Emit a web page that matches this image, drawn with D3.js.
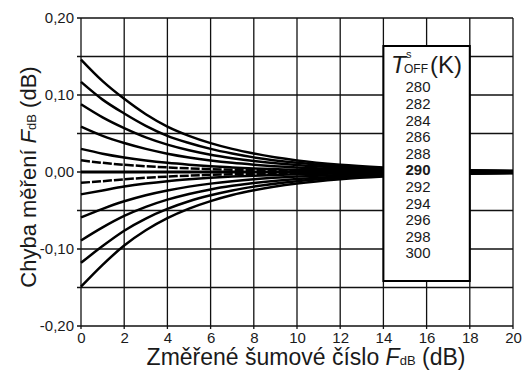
<!DOCTYPE html>
<html>
<head>
<meta charset="utf-8">
<script src="https://cdn.jsdelivr.net/npm/d3@7"></script>
<style>
  body { margin: 0; background: #fff; }
  text { font-family: "Liberation Sans", Arial, sans-serif; fill: #1a1a1a; }
</style>
</head>
<body>
<svg id="chart" width="525" height="372"></svg>
<script>
var xs = [0, 1, 2, 3, 4, 5, 6, 7, 8, 10, 12, 14, 16, 18, 20];

// error values, one curve per cold temperature
var c280 = [0.146, 0.118, 0.095, 0.075, 0.059, 0.047, 0.0375, 0.030, 0.024, 0.015, 0.0094, 0.006, 0.0038, 0.0024, 0.0015];
var c282 = [0.117, 0.094, 0.076, 0.060, 0.047, 0.0377, 0.030, 0.024, 0.019, 0.012, 0.0076, 0.0048, 0.003, 0.0019, 0.0012];
var c284 = [0.088, 0.071, 0.057, 0.045, 0.0356, 0.0283, 0.0225, 0.018, 0.0142, 0.009, 0.0057, 0.0036, 0.0023, 0.0014, 0.0009];
var c286 = [0.059, 0.047, 0.0376, 0.030, 0.0238, 0.0189, 0.015, 0.0119, 0.0095, 0.006, 0.0038, 0.0024, 0.0015, 0.0009, 0.0006];
var c288 = [0.030, 0.0238, 0.0189, 0.015, 0.0119, 0.0095, 0.0075, 0.006, 0.0047, 0.003, 0.0019, 0.0012, 0.0008, 0.0005, 0.0003];
var c289 = [0.0152, 0.0119, 0.0094, 0.0075, 0.006, 0.0047, 0.0038, 0.003, 0.0024, 0.0015, 0.0009, 0.0006, 0.0004, 0.0002, 0.0001];
var c290 = [0, 0, 0, 0, 0, 0, 0, 0, 0, 0, 0, 0, 0, 0, 0];
var c291 = [-0.014, -0.0119, -0.0095, -0.0075, -0.006, -0.0047, -0.0038, -0.003, -0.0024, -0.0015, -0.0009, -0.0006, -0.0004, -0.0002, -0.0001];
var c292 = [-0.029, -0.0239, -0.0189, -0.015, -0.0119, -0.0095, -0.0075, -0.006, -0.0048, -0.003, -0.0019, -0.0012, -0.0008, -0.0005, -0.0003];
var c294 = [-0.059, -0.0478, -0.038, -0.0301, -0.0239, -0.019, -0.0151, -0.012, -0.0095, -0.006, -0.0038, -0.0024, -0.0015, -0.001, -0.0006];
var c296 = [-0.089, -0.072, -0.0571, -0.0453, -0.0359, -0.0285, -0.0226, -0.018, -0.0143, -0.009, -0.0057, -0.0036, -0.0023, -0.0014, -0.0009];
var c298 = [-0.118, -0.0962, -0.0763, -0.0605, -0.048, -0.038, -0.0302, -0.0239, -0.019, -0.012, -0.0076, -0.0048, -0.003, -0.0019, -0.0012];
var c300 = [-0.149, -0.1206, -0.0955, -0.0757, -0.06, -0.0476, -0.0378, -0.0299, -0.0238, -0.015, -0.0095, -0.006, -0.0038, -0.0024, -0.0015];

var curves = [c280, c282, c284, c286, c288, c289, c290, c291, c292, c294, c296, c298, c300];
var dashedCurves = [c289, c291];

var legendLabels = ["280","282","284","286","288","290","292","294","296","298","300"];
var xTicks = [0, 2, 4, 6, 8, 10, 12, 14, 16, 18, 20];
var yGrid = [-0.20, -0.15, -0.10, -0.05, 0, 0.05, 0.10, 0.15, 0.20];
var yLabels = [-0.20, -0.10, 0, 0.10, 0.20];

var svg = d3.select("#chart");
var plotLeft = 81, plotRight = 513, plotTop = 18, plotBottom = 326;

var xScale = d3.scaleLinear().domain([0, 20]).range([plotLeft, plotRight]);
var yScale = d3.scaleLinear().domain([-0.2, 0.2]).range([plotBottom, plotTop]);

var czLocale = d3.formatLocale({decimal: ",", thousands: " ", grouping: [3], currency: ["", ""], minus: "-"});
var fmt = czLocale.format(".2f");

// grid
var grid = svg.append("g").attr("stroke", "#111").attr("stroke-width", 1.3);
xTicks.forEach(function(t) {
    grid.append("line")
        .attr("x1", xScale(t)).attr("x2", xScale(t))
        .attr("y1", plotTop).attr("y2", plotBottom + 3);
});
yGrid.forEach(function(v) {
    grid.append("line")
        .attr("x1", plotLeft - 4).attr("x2", plotRight)
        .attr("y1", yScale(v)).attr("y2", yScale(v));
});

// tick labels
var xAxis = d3.axisBottom(xScale).tickValues(xTicks).tickSize(0).tickPadding(6);
svg.append("g")
    .attr("transform", "translate(0," + plotBottom + ")")
    .call(xAxis)
    .call(function(g) { g.select(".domain").remove(); })
    .selectAll("text").style("font-size", "15px").attr("fill", "#222");

var yAxis = d3.axisLeft(yScale).tickValues(yLabels).tickSize(0).tickPadding(6).tickFormat(fmt);
svg.append("g")
    .attr("transform", "translate(" + (plotLeft - 1) + ",0)")
    .call(yAxis)
    .call(function(g) { g.select(".domain").remove(); })
    .selectAll("text").style("font-size", "15px").attr("fill", "#222");

// curves
var line = d3.line()
    .x(function(d) { return xScale(d[0]); })
    .y(function(d) { return yScale(d[1]); })
    .curve(d3.curveMonotoneX);

svg.append("g").selectAll("path")
    .data(curves)
    .enter().append("path")
    .attr("d", function(c) { return line(c.map(function(v, i) { return [xs[i], v]; })); })
    .attr("fill", "none")
    .attr("stroke", "#000")
    .attr("stroke-width", function(c) { return c === c290 ? 3 : 2.5; })
    .attr("stroke-dasharray", function(c) { return dashedCurves.indexOf(c) >= 0 ? "9,2" : null; });

// legend box
var lg = svg.append("g");
lg.append("rect")
    .attr("x", xScale(14)).attr("y", 46)
    .attr("width", xScale(18) - xScale(14)).attr("height", 235)
    .attr("fill", "#fff").attr("stroke", "#000").attr("stroke-width", 2);

var title = lg.append("text").attr("x", 391).attr("y", 73).style("font-size", "24px");
title.append("tspan").style("font-style", "italic").text("T");
title.append("tspan").attr("x", 406).attr("y", 58).style("font-size", "11px").text("s");
title.append("tspan").attr("x", 404).attr("y", 73).style("font-size", "12px").text("OFF");
title.append("tspan").attr("x", 430).attr("y", 73).text("(K)");

var ly = d3.scalePoint().domain(legendLabels).range([87, 253]);
lg.selectAll("text.lab")
    .data(legendLabels)
    .enter().append("text")
    .attr("class", "lab")
    .attr("x", 418)
    .attr("y", function(d) { return ly(d); })
    .attr("dy", "0.36em")
    .attr("text-anchor", "middle")
    .style("font-size", "15px")
    .style("font-weight", function(d) { return d === "290" ? "bold" : "normal"; })
    .text(function(d) { return d; });

// axis titles
var xt = svg.append("text")
    .attr("x", 306).attr("y", 365)
    .attr("text-anchor", "middle")
    .style("font-size", "23px");
xt.append("tspan").text("Změřené šumové číslo ");
xt.append("tspan").style("font-style", "italic").text("F");
xt.append("tspan").style("font-size", "13px").text("dB");
xt.append("tspan").text(" (dB)");

var yt = svg.append("text")
    .attr("transform", "translate(36,177) rotate(-90)")
    .attr("text-anchor", "middle")
    .style("font-size", "22px");
yt.append("tspan").text("Chyba měření ");
yt.append("tspan").style("font-style", "italic").text("F");
yt.append("tspan").style("font-size", "13px").text("dB");
yt.append("tspan").text(" (dB)");
</script>
</body>
</html>
